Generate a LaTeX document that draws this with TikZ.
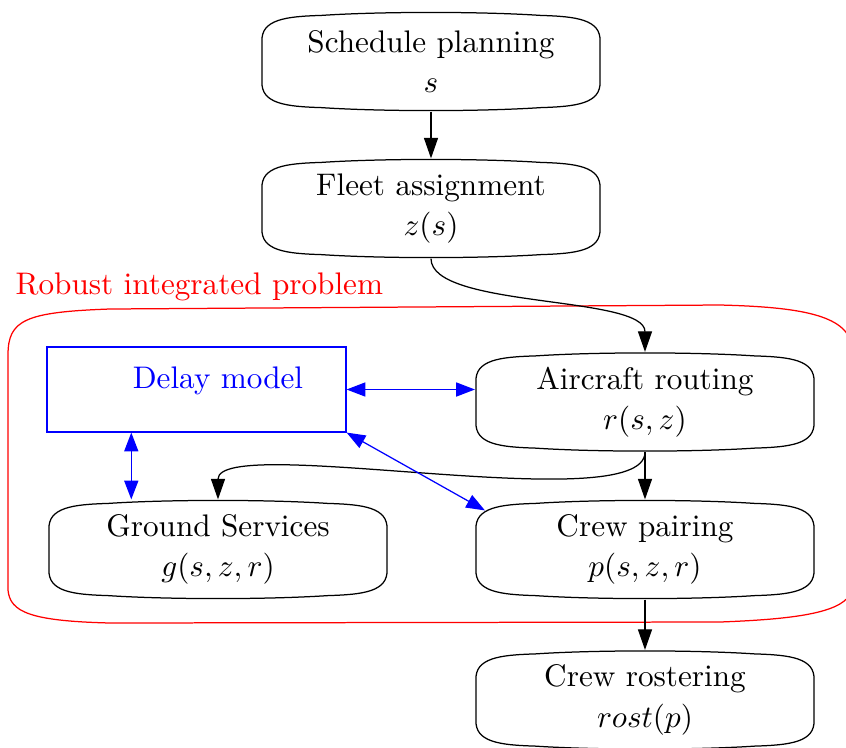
\documentclass[tikz,border=0pt]{standalone}
\usetikzlibrary{arrows.meta,calc,positioning}
\tikzset{
    proc/.style={minimum width=108.6pt,minimum height=31.7pt,inner sep=0pt,align=center},
    delaybox/.style={draw=blue,text=blue,minimum width=95.8pt,minimum height=27.2pt,inner sep=0pt},
    flow/.style={-{Triangle[length=6.6pt,width=4.5pt]}},
    duplex/.style={blue,{Triangle[length=6pt,width=4.5pt]}-{Triangle[length=6pt,width=4.5pt]}}
}
\begin{document}
\begin{tikzpicture}[x=0.3205pt,y=-0.3205pt]
    \useasboundingbox (0,0) rectangle (846,747);

    % the cluster
    \draw[red] (8,590) -- (8,355) .. controls (8,320) and (25,312) .. (110,309) -- (720,305)
        .. controls (800,307) and (846,315) .. (852,345) -- (852,590)
        .. controls (846,612) and (800,619) .. (720,622) -- (110,623)
        .. controls (30,621) and (10,612) .. (8,590) -- cycle;
    \node[red,anchor=base west,inner sep=0pt] (robust) at (15,294) {Robust integrated problem};

    \node[proc] (sched) at (431,61.5) {Schedule planning\\[1pt] $s$};
    \node[proc] (fleet) at (431,208.5) {Fleet assignment\\[1pt] $z(s)$};
    \node[proc] (route) at (645,402) {Aircraft routing\\[1pt] $r(s,z)$};
    \node[proc] (ground) at (218,549.5) {Ground Services\\[1pt] $g(s,z,r)$};
    \node[proc] (pair) at (645,549.5) {Crew pairing\\[1pt] $p(s,z,r)$};
    \node[proc] (roster) at (645,700) {Crew rostering\\[1pt] $rost(p)$};
    \node[delaybox,text depth=7.7pt] (delay) at (196.5,389.5) {\hspace*{13.8pt}Delay model};

    \foreach \n in {sched,fleet,route,ground,pair,roster}
        \draw ($(\n.north west)+(1,30)$) .. controls +(-1,-22) and +(-35,1) .. ($(\n.north west)+(60,4)$)
            .. controls +(60,-4) and +(-60,-4) .. ($(\n.north east)+(-60,4)$)
            .. controls +(35,1) and +(1,-22) .. ($(\n.north east)+(-1,30)$)
            -- ($(\n.south east)+(-1,-30)$)
            .. controls +(1,22) and +(35,-1) .. ($(\n.south east)+(-60,-4)$)
            .. controls +(-60,4) and +(60,4) .. ($(\n.south west)+(60,-4)$)
            .. controls +(-35,-1) and +(-1,22) .. ($(\n.south west)+(1,-30)$) -- cycle;

    \draw[flow] (sched.south) -- (fleet.north);
    \draw[flow] (fleet.south) .. controls +(0,50) and +(0,-57) .. (route.north);
    \draw[flow] (route.south) -- (pair.north);
    \draw[flow] (route.south) .. controls +(0,68) and +(0,-67) .. (ground.north);
    \draw[flow] (pair.south) -- (roster.north);

    \draw[duplex] (delay.east) -- (delay.east -| route.west);
    \draw[duplex] ([xshift=27.2pt]delay.south west) -- ([xshift=27.2pt]delay.south west |- ground.north);
    \draw[duplex] (delay.south east) -- ([shift={(10,11)}]pair.north west);
\end{tikzpicture}
\end{document}
